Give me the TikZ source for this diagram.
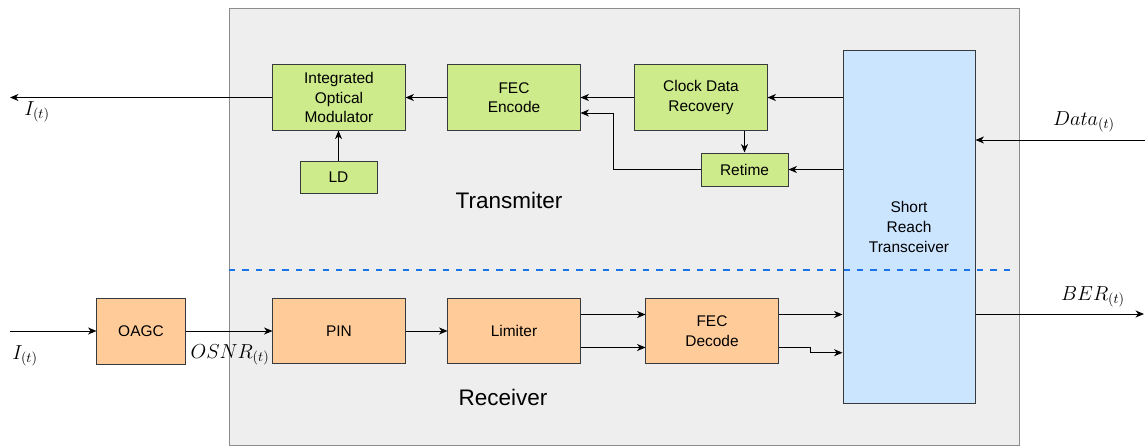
\documentclass[tikz,border=0pt]{standalone}
\usepackage{fontspec}
\setmainfont{Liberation Sans}
\usetikzlibrary{arrows.meta,calc}
\definecolor{txgreen}{HTML}{CDEB8B}
\definecolor{rxorange}{HTML}{FFCC99}
\definecolor{srblue}{HTML}{CCE5FF}
\definecolor{edge}{HTML}{36393D}
\definecolor{panel}{HTML}{EEEEEE}
\definecolor{divider}{HTML}{1A73E8}
\begin{document}
\begin{tikzpicture}[x=0.025cm,y=-0.025cm,
  blk/.style={draw=edge,line width=0.7pt,align=center,inner sep=0pt,
    font=\fontsize{11}{13.9}\selectfont},
  txblk/.style={blk,fill=txgreen},
  rxblk/.style={blk,fill=rxorange},
  wide/.style={minimum width=3.3cm,minimum height=1.63cm},
  arr/.style={-{Stealth[length=6pt,width=5pt,inset=1.8pt]},line width=0.7pt},
  sig/.style={font=\fontsize{14.5}{16}\selectfont},
  part/.style={font=\fontsize{16}{19}\selectfont}]
\useasboundingbox (0,0) rectangle (1145,447);
\draw[fill=panel,draw=black!45,line width=0.7pt] (229,8) rectangle (1019,445);

\node[txblk,wide] (iom) at (339,97.5) {Integrated\\Optical\\Modulator};
\node[txblk,wide] (enc) at (514,97.5) {FEC\\Encode};
\node[txblk,wide] (cdr) at (701,97.5) {Clock Data\\Recovery};
\node[txblk,minimum width=2.175cm,minimum height=0.825cm] (rt) at (744.5,169.5) {Retime};
\node[txblk,minimum width=1.925cm,minimum height=0.8cm] (ld) at (338.5,177) {LD};
\node[blk,fill=srblue,minimum width=3.3cm,minimum height=8.8cm] (srt) at (909,227) {Short\\Reach\\Transceiver};

\node[rxblk,minimum width=2.2cm,minimum height=1.65cm] (oagc) at (141,331) {OAGC};
\node[rxblk,wide] (pin) at (339,331) {PIN};
\node[rxblk,wide] (lim) at (514,331) {Limiter};
\node[rxblk,wide] (dec) at (712,331) {FEC\\Decode};

\node[part] (txlbl) at (509,200) {Transmiter};
\node[part] (rxlbl) at (503,397) {Receiver};

\draw[divider,line width=1.4pt,dash pattern=on 4.5pt off 5pt] (229,270) -- (1013,270);

\coordinate (iout) at (10,97.5);
\coordinate (din) at (1145,140);
\coordinate (iin) at (10,331);
\coordinate (bout) at (1144,314);
\coordinate (bend) at (613,113);

\draw[arr] (srt.west |- cdr) -- (cdr.east);
\draw[arr] (cdr) -- (enc);
\draw[arr] (enc) -- (iom);
\draw[arr] (iom) -- (iout);
\draw[arr] (ld.north) -- (ld.north |- iom.south);
\draw[arr] (cdr.south -| rt) -- (rt.north);
\draw[arr] (srt.west |- rt) -- (rt.east);
\draw[arr] (rt.west) -| (bend) -- (bend -| enc.east);
\draw[arr] (din) -- (din -| srt.east);

\draw[arr] (iin) -- (oagc);
\draw[arr] (oagc) -- (pin);
\draw[arr] (pin) -- (lim);
\draw[arr] ($(lim.east)+(0,-16.5)$) -- ($(dec.west)+(0,-16.5)$);
\draw[arr] ($(lim.east)+(0,16.5)$) -- ($(dec.west)+(0,16.5)$);
\coordinate (dtop) at ($(dec.east)+(0,-16.5)$);
\coordinate (dbot) at ($(dec.east)+(0,16.5)$);
\draw[arr] (dtop) -- (dtop -| srt.west);
\draw[arr] (dbot) -- (810,347.5) -- (810,352.7) -- (srt.west |- 0,352.7);
\draw[arr] (srt.east |- bout) -- (bout);

\node[sig] (ioutlbl) at (37,112) {$I_{(t)}$};
\node[sig] (iinlbl) at (25,356) {$I_{(t)}$};
\node[sig] (osnrlbl) at (230,355) {$OSNR_{(t)}$};
\node[sig] (datalbl) at (1084,122) {$Data_{(t)}$};
\node[sig] (berlbl) at (1093,297) {$BER_{(t)}$};
\end{tikzpicture}
\end{document}
